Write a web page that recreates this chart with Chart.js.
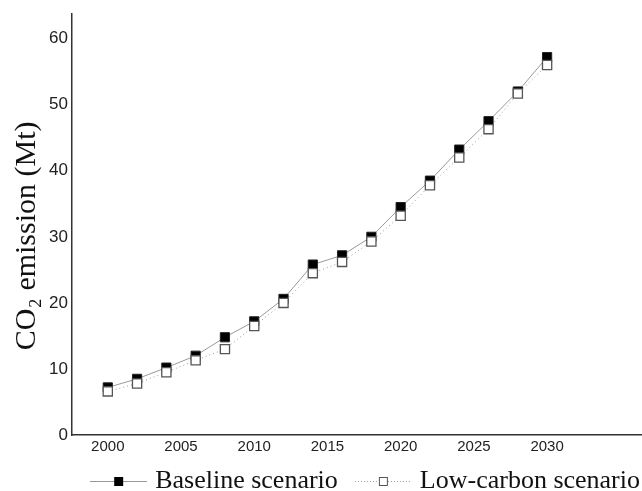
<!DOCTYPE html>
<html>
<head>
<meta charset="utf-8">
<script src="https://cdn.jsdelivr.net/npm/chart.js@4"></script>
<style>
  html, body { margin: 0; padding: 0; background: #fff; overflow: hidden; }
  #wrap { width: 642px; height: 491px; }
</style>
</head>
<body>
<div id="wrap"><canvas id="co2Chart"></canvas></div>
<script>
const years = [2000, 2002, 2004, 2006, 2008, 2010, 2012, 2014, 2016, 2018, 2020, 2022, 2024, 2026, 2028, 2030];
const baseline = [7.2, 8.5, 10.2, 12.0, 14.8, 17.2, 20.6, 25.8, 27.2, 30.0, 34.5, 38.5, 43.2, 47.5, 52.0, 57.2];
const lowCarbon = [6.6, 7.8, 9.5, 11.3, 13.0, 16.5, 20.0, 24.5, 26.2, 29.3, 33.2, 37.8, 42.0, 46.3, 51.7, 56.0];
const xTicks = [2000, 2005, 2010, 2015, 2020, 2025, 2030];
const yTicks = [0, 10, 20, 30, 40, 50, 60];

function toPoints(values) {
    return years.map((yr, i) => ({ x: yr, y: values[i] }));
}

// legend icon: line through a square marker
function legendIcon(filled, dashed) {
    const c = document.createElement('canvas');
    c.width = 57; c.height = 14;
    const g = c.getContext('2d');
    g.strokeStyle = '#999';
    g.lineWidth = 1;
    if (dashed) g.setLineDash([1, 2]);
    g.beginPath();
    g.moveTo(0, 7.5); g.lineTo(57, 7.5);
    g.stroke();
    g.setLineDash([]);
    if (filled) {
        g.fillStyle = '#000';
        g.fillRect(24, 3, 9, 9);
    } else {
        g.fillStyle = '#fff';
        g.fillRect(24, 3, 9, 9);
        g.strokeStyle = '#555';
        g.strokeRect(24.5, 3.5, 8, 8);
    }
    return c;
}

const ctx = document.getElementById('co2Chart').getContext('2d');
new Chart(ctx, {
    type: 'line',
    data: {
        datasets: [{
            label: 'Baseline scenario',
            data: toPoints(baseline),
            borderColor: '#999',
            borderWidth: 1,
            pointStyle: 'rect',
            pointRadius: 6.5,
            pointBackgroundColor: '#000',
            pointBorderColor: '#222',
            pointBorderWidth: 1,
            order: 1
        }, {
            label: 'Low-carbon scenario',
            data: toPoints(lowCarbon),
            borderColor: '#999',
            borderWidth: 1,
            borderDash: [1, 3],
            pointStyle: 'rect',
            pointRadius: 6.5,
            pointBackgroundColor: '#fff',
            pointBorderColor: '#555',
            pointBorderWidth: 1.3,
            order: 0
        }]
    },
    options: {
        responsive: true,
        maintainAspectRatio: false,
        animation: false,
        layout: { autoPadding: false, padding: { left: 8, right: -7, top: 14, bottom: -13 } },
        plugins: {
            tooltip: { enabled: false },
            legend: {
                position: 'bottom',
                align: 'end',
                labels: {
                    color: '#111',
                    font: { family: 'Liberation Serif', size: 26 },
                    boxHeight: 14,
                    pointStyleWidth: 47,
                    padding: 9,
                    usePointStyle: true,
                    generateLabels: () => [
                        { text: 'Baseline scenario  ', pointStyle: legendIcon(true, false), datasetIndex: 0, fontColor: '#111' },
                        { text: 'Low-carbon scenario', pointStyle: legendIcon(false, true), datasetIndex: 1, fontColor: '#111' }
                    ]
                }
            }
        },
        scales: {
            x: {
                type: 'linear',
                min: 1997.55,
                max: 2036.48,
                grid: { display: false, drawTicks: false },
                border: { display: true, color: '#333', width: 1.5 },
                afterBuildTicks: s => { s.ticks = xTicks.map(v => ({ value: v })); },
                ticks: {
                    padding: 3,
                    color: '#222',
                    font: { family: 'Liberation Sans', size: 15 },
                    callback: v => String(v)
                }
            },
            y: {
                min: 0,
                max: 63.7,
                grid: { display: false, drawTicks: false },
                border: { display: true, color: '#333', width: 1.5 },
                afterBuildTicks: s => { s.ticks = yTicks.map(v => ({ value: v })); },
                ticks: {
                    padding: 4,
                    color: '#222',
                    font: { family: 'Liberation Sans', size: 17 },
                    callback: v => String(v)
                },
                title: {
                    display: true,
                    text: 'CO\u2082 emission (Mt)   ',
                    color: '#111',
                    font: { family: 'Liberation Serif', size: 30 },
                    padding: { top: 1, bottom: 0 }
                }
            }
        }
    }
});
</script>
</body>
</html>
